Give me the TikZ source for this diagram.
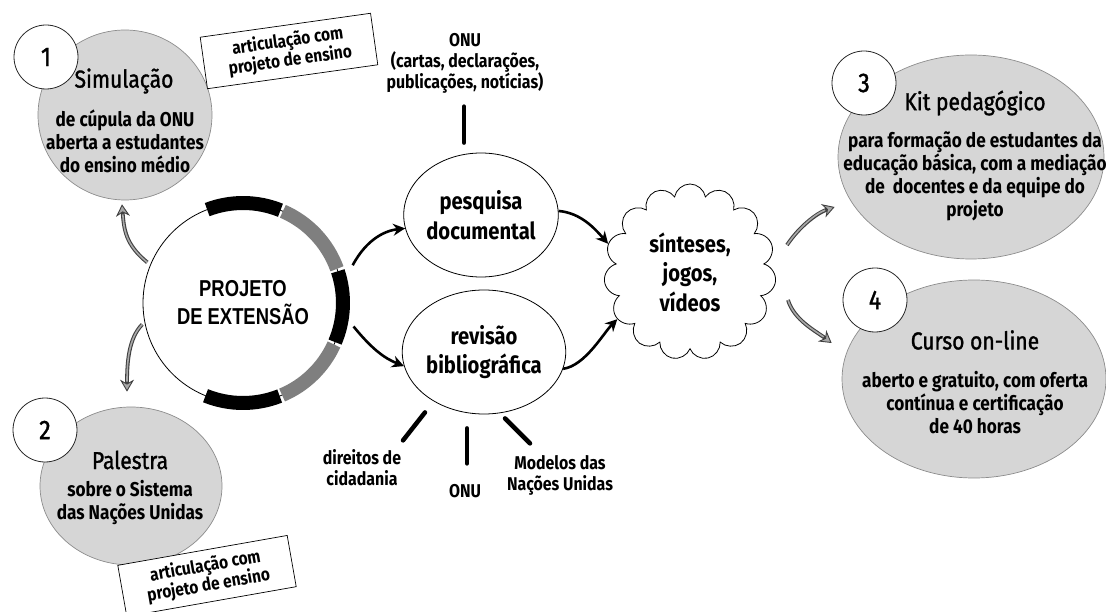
\documentclass[tikz,border=0pt]{standalone}
\usepackage{fontspec}
\setmainfont{Fira Sans}[FakeStretch=0.86]
\newfontfamily\medfont[FakeStretch=0.86,FakeBold=1.3]{Fira Sans}
\newfontfamily\projfont[FakeStretch=0.8]{Liberation Sans}
\usetikzlibrary{shapes.geometric,shapes.symbols,arrows.meta,calc}
\definecolor{ellgrey}{HTML}{D6D6D6}
\definecolor{ellline}{HTML}{8C8C8C}
\definecolor{ringgrey}{HTML}{7F7F7F}
\definecolor{arrgrey}{HTML}{A8A8A8}
\tikzset{
  greyell/.style={ellipse, fill=ellgrey, draw=ellline, line width=0.7pt, inner sep=0pt},
  numcirc/.style={circle, draw=black!85, fill=white, line width=0.8pt, minimum size=64pt, inner sep=0pt, font=\medfont\fontsize{27}{27}\selectfont},
  titletxt/.style={font=\medfont\fontsize{24.5}{26}\selectfont, align=center, inner sep=0pt},
  bodytxt/.style={font=\bfseries\fontsize{20}{23}\selectfont, align=center, inner sep=0pt},
  labtxt/.style={font=\bfseries\fontsize{18.5}{21}\selectfont, align=center, inner sep=0pt},
  bigtxt/.style={font=\bfseries\fontsize{23.5}{29.5}\selectfont, align=center, inner sep=0pt},
  artbox/.style={draw=black, fill=white, line width=0.7pt, minimum width=172pt, minimum height=52pt, align=center, font=\bfseries\fontsize{18}{19.5}\selectfont, inner sep=2pt},
  plainell/.style={ellipse, draw=black, line width=0.8pt, fill=white, inner sep=0pt},
  blackarrow/.style={line width=2.6pt, -{Stealth[length=12pt,width=12pt]}},
  grdark/.style={line width=3.8pt, draw=black!75, -{Stealth[length=12pt,width=14pt,fill=arrgrey,line width=0.9pt]}},
  grlight/.style={line width=1.6pt, draw=arrgrey, shorten >=10pt},
  ticktxt/.style={line width=4.5pt, line cap=round},
  ringseg/.style={line width=14pt, line cap=butt},
}
\newcommand\grarrow[3]{%
  \draw[grdark] #1 .. controls #2 .. #3;
  \draw[grlight] #1 .. controls #2 .. #3;
}
\begin{document}
\begin{tikzpicture}[x=1pt,y=-1pt]
\useasboundingbox (0,0) rectangle (1106,612);

% grey ellipses and number circles
\node[greyell, minimum width=174pt, minimum height=170pt] (e1) at (125,115) {};
\node[numcirc] (n1) at (46,57) {1};
\node[titletxt] (t1) at (124,81) {Simulação};
\node[bodytxt] (b1) at (125,141) {de cúpula da ONU\\aberta a estudantes\\do ensino médio};

\node[greyell, minimum width=182pt, minimum height=158pt] (e2) at (131,486) {};
\node[numcirc] (n2) at (45,430) {2};
\node[titletxt] (t2) at (130,460) {Palestra};
\node[bodytxt] (b2) at (130,503) {sobre o Sistema\\das Nações Unidas};

\node[greyell, minimum width=266pt, minimum height=204pt] (e3) at (971,157) {};
\node[numcirc] (n3) at (864,83) {3};
\node[titletxt] (t3) at (975,103) {Kit pedagógico};
\node[bodytxt] (b3) at (975,176) {para formação de estudantes da\\educação básica, com a mediação\\de\ \ docentes e da equipe do\\projeto};

\node[greyell, minimum width=264pt, minimum height=198pt] (e4) at (974,379) {};
\node[numcirc] (n4) at (875,300) {4};
\node[titletxt] (t4) at (975,340) {Curso on-line};
\node[bodytxt] (b4) at (975,403) {aberto e gratuito, com oferta\\contínua e certificação\\de 40 horas};

% boxes
\node[artbox, rotate=8] (box1) at (289,51) {articulação com\\projeto de ensino};
\node[artbox, rotate=10] (box2) at (207,576) {articulação com\\projeto de ensino};

% main circle
\node[circle, draw=black, line width=0.8pt, fill=white, minimum size=200pt, inner sep=0pt,
      font=\projfont\bfseries\fontsize{23}{28}\selectfont, align=center] (main) at (243,303) {PROJETO\\DE EXTENSÃO};
\begin{scope}[shift={(main.center)}, x=1pt, y=1pt]
  \draw[ringseg, black]    (68:100) arc[start angle=68, end angle=111, radius=100];
  \draw[ringseg, ringgrey] (20:100) arc[start angle=20, end angle=66.5, radius=100];
  \draw[ringseg, black]    (-23:100) arc[start angle=-23, end angle=18.5, radius=100];
  \draw[ringseg, ringgrey] (-67:100) arc[start angle=-67, end angle=-24.5, radius=100];
  \draw[ringseg, black]    (-112:100) arc[start angle=-112, end angle=-68.5, radius=100];
\end{scope}

% middle ellipses and cloud
\node[plainell, minimum width=152pt, minimum height=124pt, bigtxt] (pesq) at (481,215) {pesquisa\\documental};
\node[plainell, minimum width=156pt, minimum height=124pt, bigtxt] (rev) at (484,352) {revisão\\bibliográfica};
\node[cloud, cloud puffs=15, cloud puff arc=160, aspect=1, draw=black, line width=0.8pt,
      minimum width=172pt, minimum height=176pt, inner sep=0pt, bigtxt] (cloud) at (690,272) {sínteses,\\jogos,\\vídeos};

% labels
\node[labtxt] (onutop) at (465,63) {ONU\\(cartas, declarações,\\publicações, notícias)};
\node[labtxt] (dir) at (362,468) {direitos de\\cidadania};
\node[labtxt] (onub) at (465,491) {ONU};
\node[labtxt] (mod) at (560,475) {Modelos das\\Nações Unidas};

% ticks
\draw[ticktxt] ($(pesq.north)+(-17,-46)$) -- ($(pesq.north)+(-17,-10)$);
\draw[ticktxt] ($(rev.south)+(-59,-2)$) -- ($(rev.south)+(-81,26)$);
\draw[ticktxt] ($(rev.south)+(-17,14)$) -- ($(rev.south)+(-17,49)$);
\draw[ticktxt] ($(rev.south)+(21,4)$) -- ($(rev.south)+(46,29)$);

% black arrows
\draw[blackarrow] ($(main.center)+(19:116pt)$) .. controls +(15,-28) and +(-18,2) .. (pesq.190);
\draw[blackarrow] ($(main.center)+(-12:113pt)$) .. controls +(18,22) and +(-20,-8) .. (rev.190);
\draw[blackarrow] (pesq.3) .. controls +(22,2) and +(-14,-16) .. (cloud.161);
\draw[blackarrow] (rev.-12) .. controls +(22,-3) and +(-14,14) .. (cloud.213);

% grey arrows
\coordinate (g1s) at ($(main.center)+(157:104pt)$);
\coordinate (g1e) at ($(e1.south)+(-3,4)$);
\coordinate (g2s) at ($(main.center)+(192:103pt)$);
\coordinate (g2e) at ($(e2.north)+(-4,-15)$);
\coordinate (g3s) at ($(cloud.center)+(97,-27)$);
\coordinate (g3e) at ($(e3.west)+(-3,50)$);
\coordinate (g4s) at ($(cloud.center)+(98,28)$);
\coordinate (g4e) at ($(e4.west)+(-10,-36)$);
\grarrow{(g1s)}{+(-22,-18) and +(2,25)}{(g1e)}
\grarrow{(g2s)}{+(-14,14) and +(0,-28)}{(g2e)}
\grarrow{(g3s)}{+(12,-18) and +(-18,6)}{(g3e)}
\grarrow{(g4s)}{+(6,20) and +(-16,-12)}{(g4e)}
\end{tikzpicture}
\end{document}
